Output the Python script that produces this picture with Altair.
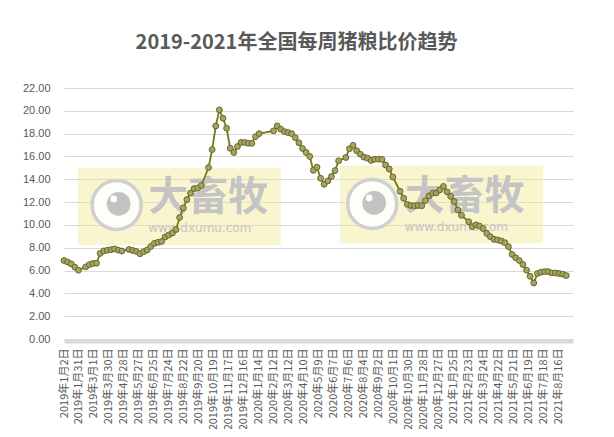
import altair as alt
import pandas as pd

# ---- data (weekly pig/grain price ratio) ----
start_week = "2019-01-02"
ratio = [
    6.88, 6.74, 6.59, 6.30, 6.03, None, 6.32, 6.52, 6.62, 6.64,
    7.50, 7.72, 7.78, 7.83, 7.90, 7.79, 7.71, None, 7.85, 7.76,
    7.68, 7.47, 7.65, 7.80, 8.10, 8.38, 8.47, 8.55, 8.94, 9.12,
    9.29, 9.60, 10.65, 11.50, 12.22, 12.78, 13.18, 13.22, 13.45, None,
    15.03, 16.60, 18.67, 20.08, 19.35, 18.47, 16.72, 16.35, 16.87, 17.23,
    17.23, 17.15, 17.15, 17.74, 18.00, None, None, None, 18.24, 18.68,
    18.38, 18.18, 18.09, 18.00, 17.65, 17.20, 16.70, 16.35, 16.00, 14.78,
    15.06, 14.09, 13.56, 13.85, 14.24, 14.76, 15.62, None, 15.91, 16.68,
    16.97, 16.50, 16.20, 15.94, 15.85, 15.65, 15.76, 15.76, 15.74, 15.25,
    14.90, 14.20, None, 12.95, 12.34, 11.80, 11.70, 11.68, 11.70, 11.68,
    12.13, 12.54, 12.78, 12.80, 13.07, 13.38, 12.90, 12.50, 12.05, 11.31,
    10.84, None, 10.28, 9.85, 10.00, 9.90, 9.68, 9.26, 8.97, 8.74,
    8.68, 8.59, 8.44, 8.09, 7.41, 7.12, 6.88, 6.53, 6.03, 5.50,
    4.91, 5.74, 5.85, 5.91, 5.91, 5.79, 5.79, 5.74, 5.68, 5.56,
]

tick_dates = [
    "2019-01-02", "2019-01-31", "2019-03-01", "2019-03-30", "2019-04-28",
    "2019-05-27", "2019-06-25", "2019-07-24", "2019-08-22", "2019-09-20",
    "2019-10-19", "2019-11-17", "2019-12-16", "2020-01-14", "2020-02-12",
    "2020-03-12", "2020-04-10", "2020-05-09", "2020-06-07", "2020-07-06",
    "2020-08-04", "2020-09-02", "2020-10-01", "2020-10-30", "2020-11-28",
    "2020-12-27", "2021-01-25", "2021-02-23", "2021-03-24", "2021-04-22",
    "2021-05-21", "2021-06-19", "2021-07-18", "2021-08-16",
]
x_domain = ["2019-01-02", "2021-09-14"]
y_ticks = [0, 2, 4, 6, 8, 10, 12, 14, 16, 18, 20, 22]

# watermark ("大畜牧 www.dxumu.com") placement in data coordinates
wm_box_start = ["2019-01-29", "2020-06-20"]
wm_box_end = ["2020-02-26", "2021-07-18"]
wm_box_low = [8.25, 8.40]
wm_box_high = [15.00, 15.20]
wm_logo_date = ["2019-04-14", "2020-08-21"]
wm_logo_val = [11.75, 11.84]
wm_text_date = ["2019-06-14", "2020-10-23"]
wm_text_val = [12.35, 12.45]
wm_url_val = [9.72, 9.78]

def ms(s):
    return int(pd.Timestamp(s).value // 10**6)

dates = pd.date_range(start_week, periods=len(ratio), freq="7D").strftime("%Y-%m-%d")
df = pd.DataFrame({"date": dates, "ratio": ratio}).dropna()

wm = pd.DataFrame({
    "b0": wm_box_start, "b1": wm_box_end, "lo": wm_box_low, "hi": wm_box_high,
    "ld": wm_logo_date, "lv": wm_logo_val,
    "td": wm_text_date, "tv": wm_text_val, "uv": wm_url_val,
})

FONT = "Noto Sans CJK SC"
GRAY = "#595959"
xscale = alt.Scale(type="utc", domain=[ms(d) for d in x_domain])
yscale = alt.Scale(domain=[0, 22], nice=False)

x_axis = alt.Axis(
    values=[ms(d) for d in tick_dates],
    labelExpr="utcFormat(datum.value, '%Y年%-m月%-d日')",
    labelAngle=-90, labelFont=FONT, labelFontSize=11, labelColor=GRAY,
    labelPadding=7, ticks=False, grid=False, domain=True,
    domainColor="#d9d9d9", domainWidth=4, offset=2, labelOverlap=False,
    labelBound=False, title=None,
)
y_axis = alt.Axis(
    values=y_ticks, format=".2f", labelFont="Liberation Sans", labelFontSize=11,
    labelColor=GRAY, labelPadding=14, ticks=False, domain=False, grid=True,
    gridColor="#d9d9d9", gridWidth=1, title=None,
)

def wx(field):
    return alt.X(f"{field}:T", scale=xscale, axis=x_axis, title=None)

def wy(field):
    return alt.Y(f"{field}:Q", scale=yscale, axis=y_axis, title=None)

box = alt.Chart(wm).mark_rect(fill="#f0e68c", opacity=0.42).encode(
    x=wx("b0"), x2="b1:T", y=wy("lo"), y2="hi:Q")
ring = alt.Chart(wm).mark_point(shape="circle", filled=True, size=2400, fill="#ffffff",
                                fillOpacity=0.85, stroke="#d0d0d0", strokeWidth=3.5).encode(
    x=wx("ld"), y=wy("lv"))
eye = alt.Chart(wm).mark_circle(size=560, color="#c2c2c2", opacity=1, xOffset=2, yOffset=-1).encode(
    x=wx("ld"), y=wy("lv"))
glint = alt.Chart(wm).mark_circle(size=45, color="#ffffff", opacity=1, xOffset=-3, yOffset=-6).encode(
    x=wx("ld"), y=wy("lv"))
wtext = alt.Chart(wm).mark_text(text="大畜牧", font=FONT, fontSize=40, fontWeight="bold",
                                color="#c4c4c4", align="left", baseline="middle").encode(
    x=wx("td"), y=wy("tv"))
wurl = alt.Chart(wm).mark_text(text="www.dxumu.com", font="DejaVu Sans", fontSize=12,
                               color="#c4c4c4", align="left", baseline="middle").encode(
    x=wx("td"), y=wy("uv"))

line = alt.Chart(df).mark_line(color="#76761f", strokeWidth=1.8).encode(
    x=wx("date"), y=wy("ratio"))
pts = alt.Chart(df).mark_point(shape="circle", filled=True, size=34, fill="#a3a36a",
                               stroke="#68681c", strokeWidth=1, opacity=1).encode(
    x=wx("date"), y=wy("ratio"))

chart = alt.layer(box, ring, eye, glint, wtext, wurl, line, pts).properties(
    width=509, height=251,
    autosize="none",
    background="white",
    padding={"left": 56, "top": 80, "right": 30, "bottom": 90},
    title=alt.TitleParams(
        "2019-2021年全国每周猪粮比价趋势", font=FONT, fontSize=20, fontWeight="bold",
        color=GRAY, anchor="middle", dx=-22, offset=29,
    ),
).configure_view(stroke=None)

chart.save("out.html", embed_options={"renderer": "svg", "actions": False})
